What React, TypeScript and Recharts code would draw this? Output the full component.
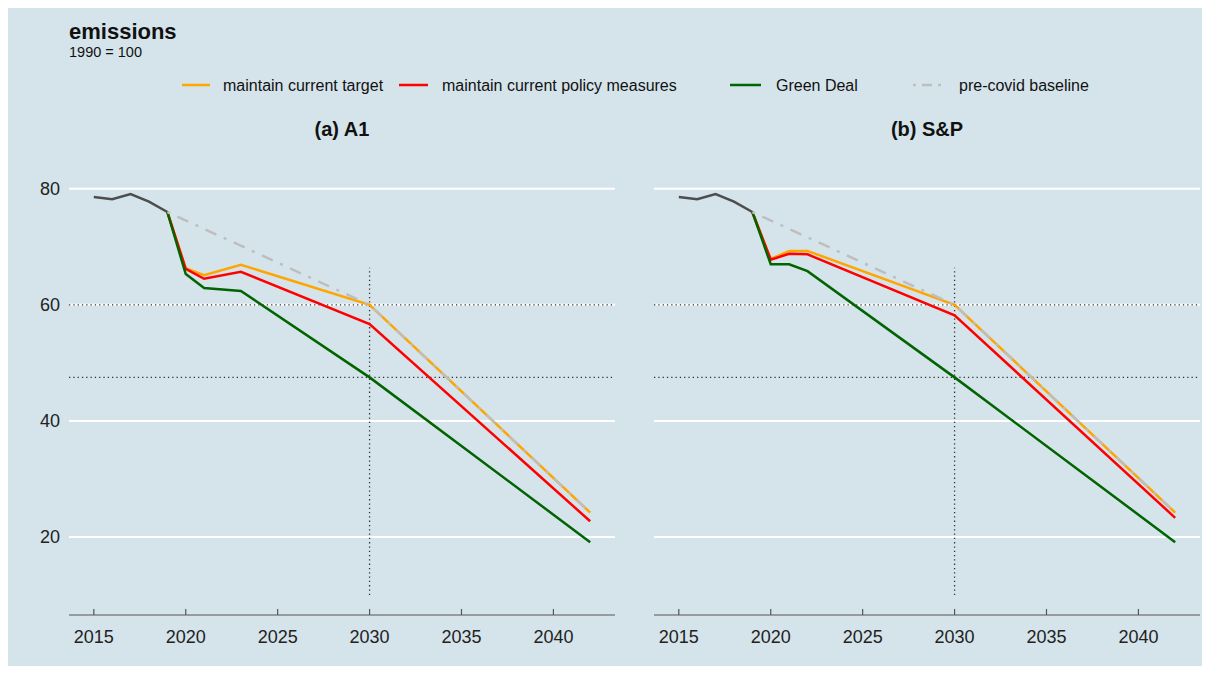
import { LineChart, Line, XAxis, YAxis, CartesianGrid, ReferenceLine } from 'recharts';

// historical emissions (1990 = 100)
const histYears = [2015, 2016, 2017, 2018, 2019];
const histValues = [78.6, 78.2, 79.1, 77.8, 76.0];

// pre-covid baseline, same in both panels
const baselineYears = [2019, 2030, 2042];
const baselineValues = [76.0, 60.0, 24.2];

// (a) A1
const a1Years = [2019, 2020, 2021, 2023, 2030, 2042];
const a1Target = [76.0, 66.3, 65.1, 66.9, 60.0, 24.2];
const a1Policy = [76.0, 66.2, 64.5, 65.7, 56.7, 22.7];
const a1Green = [76.0, 65.3, 62.9, 62.4, 47.5, 19.1];

// (b) S&P
const spYears = [2019, 2020, 2021, 2022, 2030, 2042];
const spTarget = [76.0, 67.9, 69.3, 69.3, 60.0, 24.2];
const spPolicy = [76.0, 67.8, 68.8, 68.7, 58.2, 23.3];
const spGreen = [76.0, 67.0, 67.0, 65.8, 47.5, 19.1];

const xTicks = [2015, 2020, 2025, 2030, 2035, 2040];
const yTicks = [20, 40, 60, 80];
const targetLevel = 60;
const greenDealLevel = 47.5;

const FONT = '"Liberation Sans", Arial, Helvetica, sans-serif';
const BG = '#d5e4eb';

const toRows = (years: number[], values: number[]) =>
  years.map((year, i) => ({ year, value: values[i] }));

const XTick = (props: any) => {
  const { x, y, payload } = props;
  return (
    <g>
      <line x1={x} x2={x} y1={y} y2={y - 6} stroke="#555" strokeWidth={1.2} />
      <text x={x} y={y + 28} textAnchor="middle" fontSize={18} fill="#222" fontFamily={FONT}>
        {payload.value}
      </text>
    </g>
  );
};

interface PanelProps {
  years: number[];
  target: number[];
  policy: number[];
  green: number[];
  showY: boolean;
  width: number;
  margin: { top: number; right: number; bottom: number; left: number };
}

const Panel = ({ years, target, policy, green, showY, width, margin }: PanelProps) => (
  <LineChart width={width} height={510} margin={margin}>
    <CartesianGrid horizontal vertical={false} horizontalValues={yTicks} stroke="#ffffff" strokeWidth={2} />
    <XAxis
      type="number"
      dataKey="year"
      domain={[2013.65, 2043.35]}
      ticks={xTicks}
      height={30}
      tickSize={0}
      tickMargin={0}
      tickLine={false}
      axisLine={{ stroke: '#555', strokeWidth: 1.2 }}
      tick={<XTick />}
      allowDataOverflow
    />
    <YAxis
      type="number"
      domain={[6.55, 82.55]}
      ticks={yTicks}
      width={showY ? 61 : 0}
      hide={!showY}
      axisLine={false}
      tickLine={false}
      tickSize={6}
      tickMargin={3}
      tick={{ fontSize: 18, fill: '#222', fontFamily: FONT }}
      allowDataOverflow
    />
    <ReferenceLine y={targetLevel} stroke="#333" strokeWidth={1.3} strokeDasharray="1.3 3" />
    <ReferenceLine y={greenDealLevel} stroke="#333" strokeWidth={1.3} strokeDasharray="1.3 3" />
    <ReferenceLine
      segment={[{ x: 2030, y: 10 }, { x: 2030, y: 66.4 }]}
      stroke="#333"
      strokeWidth={1.3}
      strokeDasharray="1.3 3"
    />
    <Line data={toRows(years, target)} dataKey="value" stroke="#FFA500" strokeWidth={2.5} dot={false} isAnimationActive={false} />
    <Line data={toRows(years, policy)} dataKey="value" stroke="#FF0000" strokeWidth={2.5} dot={false} isAnimationActive={false} />
    <Line data={toRows(years, green)} dataKey="value" stroke="#006400" strokeWidth={2.5} dot={false} isAnimationActive={false} />
    <Line
      data={toRows(baselineYears, baselineValues)}
      dataKey="value"
      stroke="#BEBEBE"
      strokeWidth={2.5}
      strokeDasharray="3 8 12 8"
      dot={false}
      isAnimationActive={false}
    />
    <Line data={toRows(histYears, histValues)} dataKey="value" stroke="#4D4D4D" strokeWidth={2.5} dot={false} isAnimationActive={false} />
  </LineChart>
);

const legendItems = [
  { label: 'maintain current target', color: '#FFA500', x1: 174, x2: 202, tx: 215, dash: undefined },
  { label: 'maintain current policy measures', color: '#FF0000', x1: 391, x2: 420, tx: 434, dash: undefined },
  { label: 'Green Deal', color: '#006400', x1: 722, x2: 753, tx: 768, dash: undefined },
  { label: 'pre-covid baseline', color: '#BEBEBE', x1: 905, x2: 937, tx: 951, dash: '3 6 10 6' },
];

export default function App() {
  return (
    <div style={{ position: 'relative', width: 1194, height: 658, background: BG, fontFamily: FONT }}>
      <svg width={1194} height={150} style={{ position: 'absolute', left: 0, top: 0 }}>
        <text x={61} y={31} fontSize={22} fontWeight="bold" fill="#111" fontFamily={FONT}>
          emissions
        </text>
        <text x={61} y={49} fontSize={14.5} fill="#111" fontFamily={FONT}>
          1990 = 100
        </text>
        {legendItems.map((item) => (
          <g key={item.label}>
            <line x1={item.x1} x2={item.x2} y1={77} y2={77} stroke={item.color} strokeWidth={2.5} strokeDasharray={item.dash} />
            <text x={item.tx} y={83} fontSize={16} fill="#111" fontFamily={FONT}>
              {item.label}
            </text>
          </g>
        ))}
        <text x={334} y={128} fontSize={20} fontWeight="bold" textAnchor="middle" fill="#111" fontFamily={FONT}>
          (a) A1
        </text>
        <text x={919} y={128} fontSize={20} fontWeight="bold" textAnchor="middle" fill="#111" fontFamily={FONT}>
          (b) S&amp;P
        </text>
      </svg>
      <div style={{ position: 'absolute', left: 0, top: 150 }}>
        <Panel
          years={a1Years}
          target={a1Target}
          policy={a1Policy}
          green={a1Green}
          showY
          width={620}
          margin={{ top: 16, right: 13, bottom: 23, left: 0 }}
        />
      </div>
      <div style={{ position: 'absolute', left: 600, top: 150 }}>
        <Panel
          years={spYears}
          target={spTarget}
          policy={spPolicy}
          green={spGreen}
          showY={false}
          width={594}
          margin={{ top: 16, right: 2, bottom: 23, left: 46 }}
        />
      </div>
    </div>
  );
}
